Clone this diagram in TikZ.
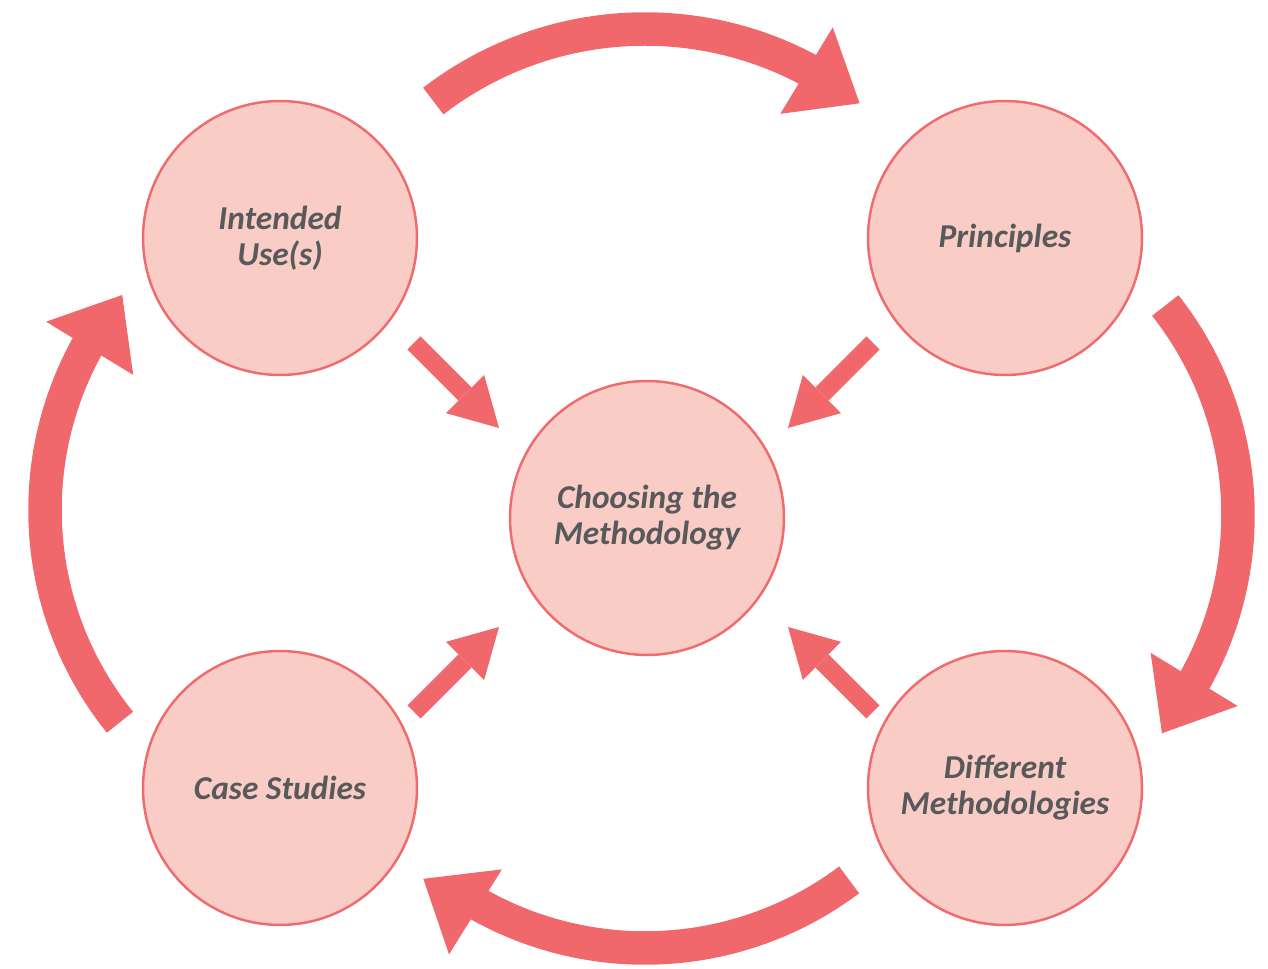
\documentclass[tikz,border=0pt]{standalone}
\usepackage{fontspec}
\setmainfont{Carlito}
\usetikzlibrary{arrows.meta}
\definecolor{stage-fill}{HTML}{F9CDC6}
\definecolor{stage-line}{HTML}{F06B6E}
\definecolor{flow-red}{HTML}{F0686C}
\definecolor{label-grey}{HTML}{58595B}
\tikzset{
    stage-circle/.style = {draw=stage-line, fill=stage-fill, line width=1.4pt, circle, minimum size=5.48cm, inner sep=0pt, align=center, text=label-grey, font=\fontsize{19}{20.5}\selectfont\bfseries\itshape},
    flow-arc/.style = {draw=flow-red, line width=0.67cm},
    flow-head/.style = {fill=flow-red},
    feed-arrow/.style = {draw=flow-red, line width=0.37cm, -{Triangle[length=0.96cm, width=1.08cm, line width=0pt]}},
}

\begin{document}
\begin{tikzpicture}[x=0.02cm, y=0.02cm]
\useasboundingbox (0,0) rectangle (1268,969);

\node[stage-circle] (uses) at (280,731) {Intended\\Use(s)};
\node[stage-circle] (principles) at (1005,731) {Principles};
\node[stage-circle] (choosing) at (647,451) {Choosing the\\Methodology};
\node[stage-circle] (cases) at (280,181) {Case Studies};
\node[stage-circle] (methods) at (1005,181) {Different\\Methodologies};

% arrows into the middle
\draw[feed-arrow] ([shift={(134,-105)}]uses.center) -- ([shift={(-148,90)}]choosing.center);
\draw[feed-arrow] ([shift={(-132,-105)}]principles.center) -- ([shift={(141,90)}]choosing.center);
\draw[feed-arrow] ([shift={(134,76)}]cases.center) -- ([shift={(-148,-109)}]choosing.center);
\draw[feed-arrow] ([shift={(-132,76)}]methods.center) -- ([shift={(141,-109)}]choosing.center);

% the cycle round the outside
\coordinate (top-hub) at (645,593);
\coordinate (right-hub) at (900,454);
\coordinate (bottom-hub) at (645,361);
\coordinate (left-hub) at (383,459);

\draw[flow-arc] (top-hub) ++(127.6:347) arc[start angle=127.6, end angle=59, radius=347];
\fill[flow-head] ([shift={(61.7:396)}]top-hub) -- ([shift={(51.8:347)}]top-hub) -- ([shift={(62.7:295)}]top-hub) -- cycle;

\draw[flow-arc] (right-hub) ++(38.3:338) arc[start angle=38.3, end angle=-32, radius=338];
\fill[flow-head] ([shift={(-29.5:388)}]right-hub) -- ([shift={(-39.8:341)}]right-hub) -- ([shift={(-28.8:286)}]right-hub) -- cycle;

\draw[flow-arc] (bottom-hub) ++(-53.1:340) arc[start angle=-53.1, end angle=-122, radius=340];
\fill[flow-head] ([shift={(-118.7:298)}]bottom-hub) -- ([shift={(-129.3:350)}]bottom-hub) -- ([shift={(-119.5:398)}]bottom-hub) -- cycle;

\draw[flow-arc] (left-hub) ++(218.9:338) arc[start angle=218.9, end angle=148, radius=338];
\fill[flow-head] ([shift={(151.6:284)}]left-hub) -- ([shift={(140.5:338)}]left-hub) -- ([shift={(150.8:386)}]left-hub) -- cycle;
\end{tikzpicture}
\end{document}
